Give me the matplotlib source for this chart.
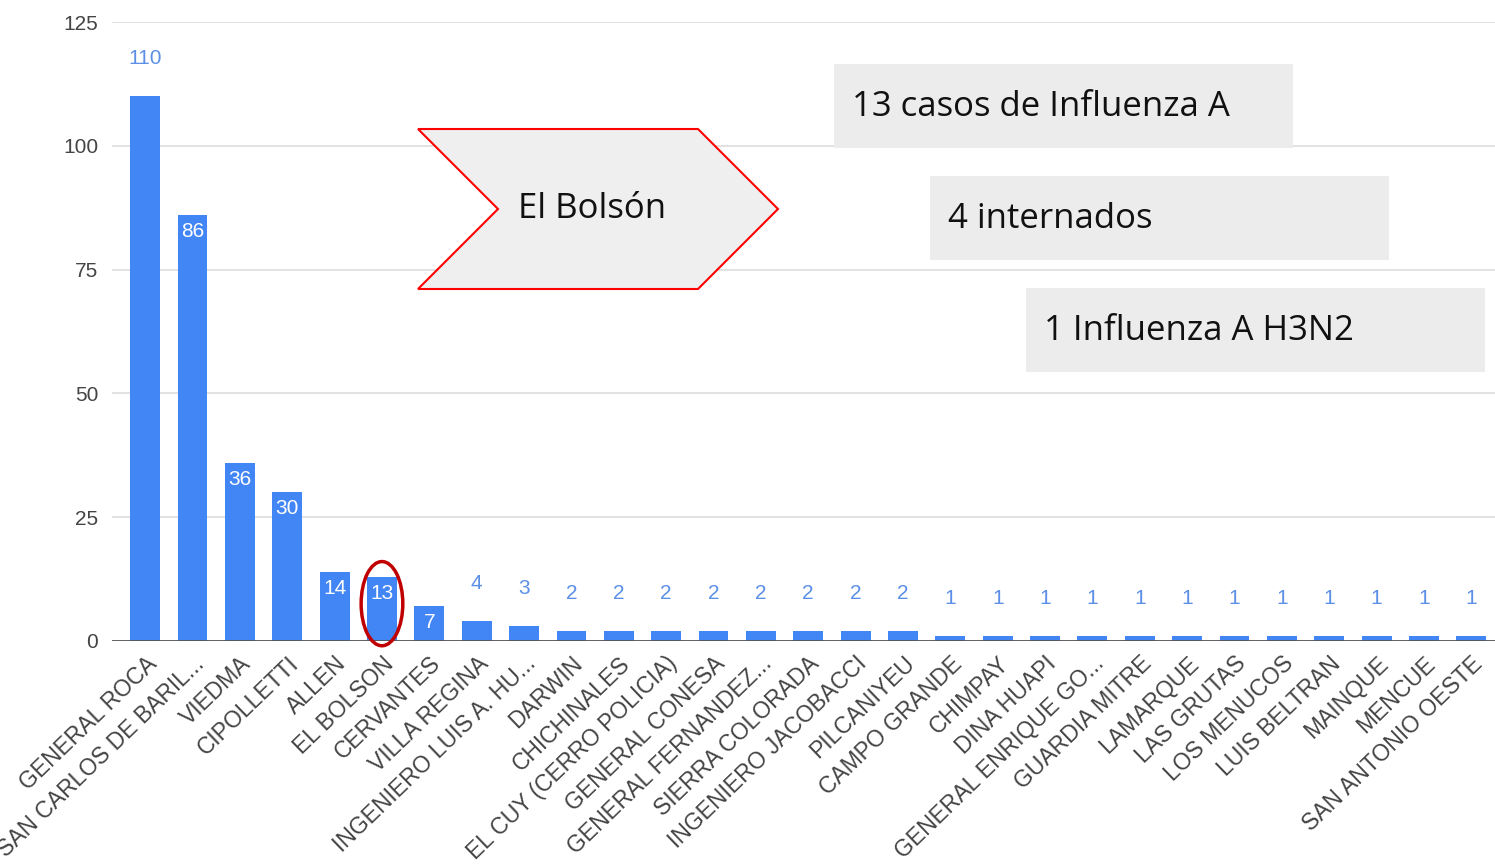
import matplotlib
matplotlib.use("Agg")
import matplotlib.pyplot as plt
from matplotlib.patches import Polygon, Rectangle, Ellipse

plt.rcParams["font.family"] = ["Liberation Sans", "DejaVu Sans"]

localidades = [
    "GENERAL ROCA", "SAN CARLOS DE BARIL...", "VIEDMA", "CIPOLLETTI", "ALLEN",
    "EL BOLSON", "CERVANTES", "VILLA REGINA", "INGENIERO LUIS A. HU...", "DARWIN",
    "CHICHINALES", "EL CUY (CERRO POLICIA)", "GENERAL CONESA", "GENERAL FERNANDEZ...",
    "SIERRA COLORADA", "INGENIERO JACOBACCI", "PILCANIYEU", "CAMPO GRANDE", "CHIMPAY",
    "DINA HUAPI", "GENERAL ENRIQUE GO...", "GUARDIA MITRE", "LAMARQUE", "LAS GRUTAS",
    "LOS MENUCOS", "LUIS BELTRAN", "MAINQUE", "MENCUE", "SAN ANTONIO OESTE",
]
casos = [110, 86, 36, 30, 14, 13, 7, 4, 3, 2, 2, 2, 2, 2, 2, 2, 2,
         1, 1, 1, 1, 1, 1, 1, 1, 1, 1, 1, 1]
y_ticks = [0, 25, 50, 75, 100, 125]
destacado = "EL BOLSON"
cajas = ["13 casos de Influenza A", "4 internados", "1 Influenza A H3N2"]

BLUE = "#4285F4"
W, H = 1495, 868

fig = plt.figure(figsize=(W / 100, H / 100), dpi=100)
ax = fig.add_axes([112 / W, 1 - 641 / H, 1 - 112 / W, (641 - 22) / H])

x = range(len(casos))
bars = ax.bar(x, casos, width=0.63, color=BLUE, zorder=3)

# value labels: inside big bars, above small ones
for i, v in enumerate(casos):
    if 5 <= v < 100:
        ax.annotate(str(v), (i, v), xytext=(0, -5), textcoords="offset points",
                    ha="center", va="top", color="white", fontsize=15, zorder=4)
    else:
        ax.annotate(str(v), (i, v), xytext=(0, 27), textcoords="offset points",
                    ha="center", va="center", color="#5c8fe6", fontsize=15, zorder=4)

ax.set_xlim(-0.7, len(casos) - 0.5)
ax.set_ylim(0, 125)
ax.set_yticks(y_ticks)
ax.yaxis.grid(True, color="#dddddd", lw=1.2, zorder=0)
for s in ax.spines.values():
    s.set_visible(False)
ax.axhline(0, color="#555555", lw=2, zorder=4)
ax.tick_params(axis="y", length=0, pad=10, labelsize=15, labelcolor="#444444")
ax.tick_params(axis="x", length=0, pad=8)
ax.set_xticks(list(x))
ax.set_xticklabels(localidades, rotation=44, ha="right", rotation_mode="anchor",
                   fontsize=16.5, color="#444444")

# red ellipse around El Bolson
k = localidades.index(destacado)
ax.add_patch(Ellipse((k, casos[k] * 0.58), width=0.88, height=17, fill=False,
                     edgecolor="#c00000", lw=2.5, zorder=5, clip_on=False))

# figure-pixel helper for the overlays
def px(xp, yp):
    return (xp / W, 1 - yp / H)

arrow = Polygon([px(418, 129), px(698, 129), px(778, 209), px(698, 289),
                 px(418, 289), px(498, 209)], closed=True,
                facecolor="#efefef", edgecolor="#ff0000", lw=1.5,
                transform=fig.transFigure)
fig.patches.append(arrow)
fig.text(*px(518, 209), "El Bolsón", fontsize=25, family="Open Sans",
         va="center", ha="left", color="#111111")

boxes = [(834, 64), (930, 176), (1026, 288)]
for (bx, by), txt in zip(boxes, cajas):
    r = Rectangle(px(bx, by + 84), 459 / W, 84 / H, facecolor="#ececec",
                  edgecolor="none", transform=fig.transFigure)
    fig.patches.append(r)
    fig.text(*px(bx + 18, by + 43), txt, fontsize=25, family="Open Sans",
             va="center", ha="left", color="#111111")

fig.savefig("out.png", dpi=100)
